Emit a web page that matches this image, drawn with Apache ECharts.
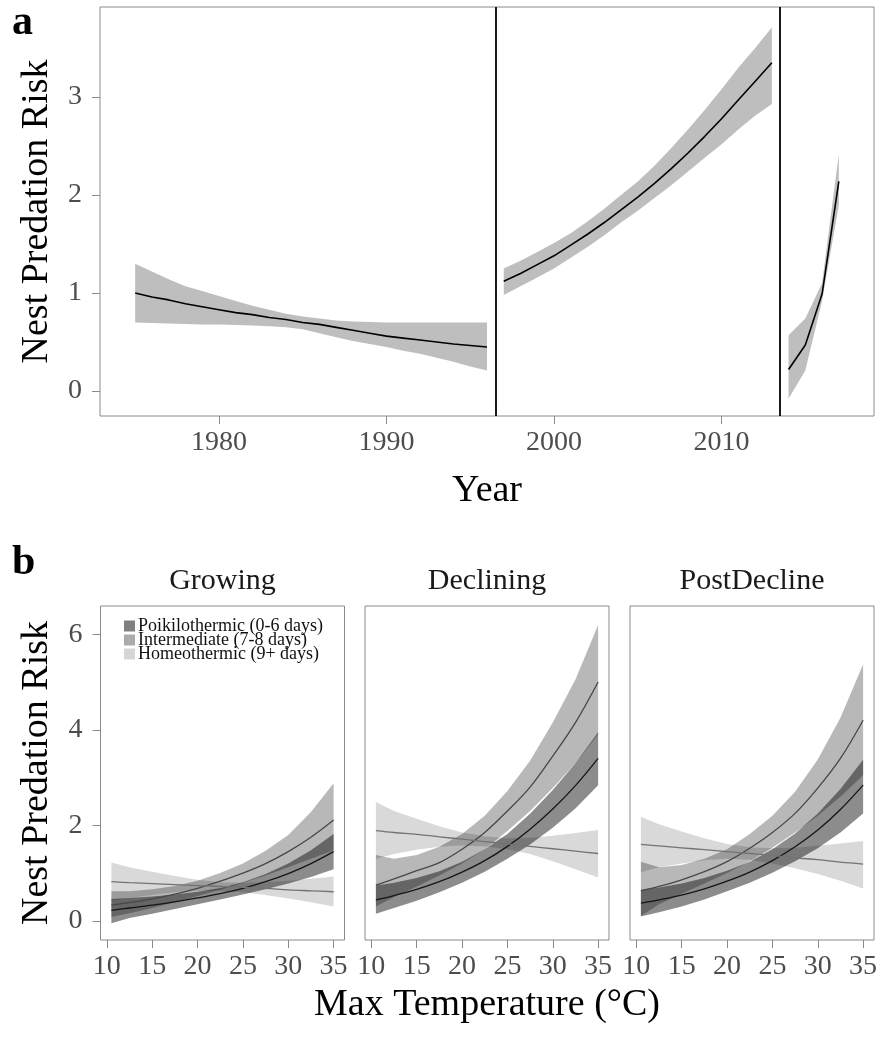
<!DOCTYPE html>
<html>
<head>
<meta charset="utf-8">
<script src="https://cdn.jsdelivr.net/npm/echarts@6/dist/echarts.min.js"></script>
<style>html,body{margin:0;padding:0;background:#fff}#c{width:882px;height:1038px}</style>
</head>
<body>
<div id="c"></div>
<script>
// ---------- Panel a data ----------
const yearsA1 = [1975,1976,1977,1978,1979,1980,1981,1982,1983,1984,1985,1986,1987,1988,1989,1990,1991,1992,1993,1994,1995,1996];
const riskA1  = [1.00,0.96,0.93,0.89,0.86,0.83,0.80,0.78,0.75,0.73,0.70,0.68,0.65,0.62,0.59,0.56,0.54,0.52,0.50,0.48,0.465,0.45];
const hiA1    = [1.30,1.22,1.14,1.07,1.02,0.97,0.92,0.87,0.83,0.79,0.76,0.74,0.72,0.71,0.705,0.70,0.70,0.70,0.70,0.70,0.70,0.70];
const loA1    = [0.70,0.695,0.69,0.685,0.68,0.68,0.675,0.67,0.66,0.65,0.63,0.59,0.55,0.51,0.48,0.45,0.41,0.38,0.34,0.30,0.25,0.21];

const yearsA2 = [1997,1998,1999,2000,2001,2002,2003,2004,2005,2006,2007,2008,2009,2010,2011,2012,2013];
const riskA2  = [1.12,1.20,1.29,1.38,1.49,1.60,1.72,1.85,1.98,2.12,2.27,2.43,2.60,2.78,2.97,3.16,3.35];
const hiA2    = [1.25,1.33,1.42,1.51,1.61,1.73,1.86,2.00,2.14,2.30,2.48,2.67,2.87,3.08,3.30,3.50,3.71];
const loA2    = [0.98,1.07,1.16,1.25,1.36,1.47,1.59,1.72,1.84,1.97,2.10,2.24,2.38,2.52,2.67,2.81,2.93];

const yearsA3 = [2014,2015,2016,2017];
const riskA3  = [0.22,0.47,0.99,2.14];
const hiA3    = [0.57,0.74,1.10,2.42];
const loA3    = [-0.08,0.21,0.92,1.90];

const periodBreaks = [1996.5, 2013.5];
const aXTicks = [1980,1990,2000,2010];
const aYTicks = [0,1,2,3];

// ---------- Panel b data ----------
const facets = ['Growing','Declining','PostDecline'];
const groups = ['Poikilothermic (0-6 days)','Intermediate (7-8 days)','Homeothermic (9+ days)'];
const tempX = [10.5,12.5,15,17.5,20,22.5,25,27.5,30,32.5,35];
const bXTicks = [10,15,20,25,30,35];
const bYTicks = [0,2,4,6];

// Growing
const growPoiki   = [0.22,0.27,0.33,0.40,0.48,0.57,0.68,0.82,0.99,1.20,1.45];
const growPoikiLo = [-0.05,0.06,0.15,0.25,0.35,0.45,0.55,0.66,0.78,0.92,1.08];
const growPoikiHi = [0.46,0.48,0.51,0.55,0.61,0.69,0.81,0.98,1.20,1.48,1.82];
const growInter   = [0.33,0.38,0.46,0.56,0.68,0.83,1.00,1.20,1.45,1.75,2.11];
const growInterLo = [0.08,0.16,0.27,0.39,0.52,0.65,0.80,0.95,1.12,1.30,1.48];
const growInterHi = [0.62,0.62,0.66,0.73,0.84,1.00,1.20,1.47,1.80,2.28,2.88];
const growHomeo   = [0.82,0.80,0.78,0.76,0.74,0.72,0.70,0.68,0.65,0.63,0.61];
const growHomeoLo = [0.42,0.48,0.54,0.60,0.63,0.63,0.60,0.54,0.47,0.39,0.30];
const growHomeoHi = [1.22,1.12,1.03,0.94,0.86,0.81,0.80,0.81,0.84,0.88,0.93];

// Declining
const declPoiki   = [0.44,0.53,0.66,0.82,1.02,1.26,1.56,1.92,2.34,2.83,3.40];
const declPoikiLo = [0.15,0.27,0.42,0.60,0.80,1.03,1.30,1.60,1.95,2.35,2.84];
const declPoikiHi = [0.74,0.80,0.90,1.04,1.24,1.50,1.82,2.24,2.74,3.30,3.95];
const declInter   = [0.75,0.88,1.05,1.22,1.50,1.85,2.30,2.80,3.45,4.15,5.00];
const declInterLo = [0.30,0.50,0.72,0.95,1.20,1.50,1.88,2.30,2.78,3.30,3.90];
const declInterHi = [1.38,1.30,1.38,1.55,1.82,2.20,2.72,3.35,4.15,5.05,6.19];
const declHomeo   = [1.89,1.85,1.81,1.76,1.71,1.66,1.61,1.56,1.51,1.46,1.41];
const declHomeoLo = [1.30,1.40,1.49,1.55,1.58,1.56,1.50,1.40,1.25,1.08,0.91];
const declHomeoHi = [2.49,2.30,2.14,1.98,1.85,1.77,1.73,1.74,1.78,1.84,1.90];

// PostDecline
const postPoiki   = [0.37,0.44,0.54,0.67,0.83,1.02,1.26,1.55,1.90,2.33,2.84];
const postPoikiLo = [0.09,0.18,0.30,0.45,0.62,0.80,1.01,1.25,1.52,1.85,2.25];
const postPoikiHi = [0.65,0.70,0.78,0.90,1.05,1.24,1.50,1.83,2.25,2.76,3.37];
const postInter   = [0.63,0.72,0.86,1.03,1.24,1.52,1.85,2.25,2.78,3.40,4.20];
const postInterLo = [0.10,0.35,0.57,0.78,1.00,1.25,1.53,1.85,2.20,2.60,3.05];
const postInterHi = [1.24,1.12,1.17,1.30,1.50,1.82,2.20,2.70,3.38,4.25,5.37];
const postHomeo   = [1.60,1.57,1.53,1.49,1.45,1.41,1.37,1.32,1.28,1.23,1.19];
const postHomeoLo = [1.02,1.12,1.20,1.27,1.30,1.28,1.20,1.10,0.98,0.84,0.68];
const postHomeoHi = [2.18,2.02,1.87,1.73,1.61,1.54,1.52,1.53,1.57,1.62,1.67];

// ---------- styling ----------
const FONT = 'Liberation Serif';
const tickCol = '#4d4d4d';
const boxCol = '#8a8a8a';
const bandFill = ['rgba(0,0,0,0.45)','rgba(0,0,0,0.28)','rgba(0,0,0,0.15)'];
const keyFill = ['#808080','#ababab','#d6d6d6'];
const lineCol = ['#151515','#474747','#737373'];

function bandSeries(name, idx, xs, lo, hi, fill, z) {
  return {
    type: 'custom', name: name, xAxisIndex: idx, yAxisIndex: idx, silent: true, z: z,
    data: xs.map((x, i) => [x, lo[i], hi[i]]),
    encode: { x: 0, y: [1, 2] },
    renderItem: function (params, api) {
      if (params.dataIndex !== 0) return null;
      const pts = [];
      for (let i = 0; i < xs.length; i++) pts.push(api.coord([xs[i], hi[i]]));
      for (let i = xs.length - 1; i >= 0; i--) pts.push(api.coord([xs[i], lo[i]]));
      return { type: 'polygon', shape: { points: pts }, style: { fill: fill } };
    }
  };
}
function lineSeries(name, idx, xs, ys, color, width, smooth, z) {
  return {
    type: 'line', name: name, xAxisIndex: idx, yAxisIndex: idx, silent: true, z: z,
    data: xs.map((x, i) => [x, ys[i]]), showSymbol: false, symbol: 'none', smooth: smooth,
    lineStyle: { color: color, width: width }
  };
}

const grids = [
  { left: 100, top: 7, width: 774, height: 409 },
  { left: 100.5, top: 606, width: 244, height: 334 },
  { left: 365, top: 606, width: 244, height: 334 },
  { left: 630, top: 606, width: 244, height: 334 }
].map(g => Object.assign(g, { show: true, borderColor: boxCol, borderWidth: 1, backgroundColor: '#fff' }));

function xAx(idx, min, max, ticks, name, nameGap) {
  return {
    type: 'value', gridIndex: idx, min: min, max: max, position: 'bottom',
    axisLine: { show: false, onZero: false },
    splitLine: { show: false },
    axisTick: { show: true, inside: false, customValues: ticks, length: 8, lineStyle: { color: boxCol, width: 1 } },
    axisLabel: { customValues: ticks, formatter: v => String(v), color: tickCol, fontFamily: FONT, fontSize: 28, margin: 13 },
    name: name || '', nameLocation: 'middle', nameGap: nameGap || 0,
    nameTextStyle: { color: '#000', fontFamily: FONT, fontSize: 38 }
  };
}
function yAx(idx, min, max, ticks, showLabels, name) {
  return {
    type: 'value', gridIndex: idx, min: min, max: max, position: 'left',
    axisLine: { show: false, onZero: false },
    splitLine: { show: false },
    axisTick: { show: showLabels, inside: false, customValues: ticks, length: 8, lineStyle: { color: boxCol, width: 1 } },
    axisLabel: { show: showLabels, customValues: ticks, formatter: v => String(v), color: tickCol, fontFamily: FONT, fontSize: 28, margin: 18 },
    name: name || '', nameLocation: 'middle', nameGap: 44,
    nameTextStyle: { color: '#000', fontFamily: FONT, fontSize: 38 }
  };
}

const bXmin = 9.3, bXmax = 36.2, bYmin = -0.4, bYmax = 6.59;

const series = [];
// panel a
series.push(bandSeries('a1', 0, yearsA1, loA1, hiA1, '#bebebe', 1));
series.push(bandSeries('a2', 0, yearsA2, loA2, hiA2, '#bebebe', 1));
series.push(bandSeries('a3', 0, yearsA3, loA3, hiA3, '#bebebe', 1));
const aLine1 = lineSeries('a1line', 0, yearsA1, riskA1, '#000', 1.6, false, 3);
aLine1.markLine = {
  silent: true, symbol: ['none', 'none'], label: { show: false },
  lineStyle: { color: '#000', width: 1.8, type: 'solid' },
  data: periodBreaks.map(v => ({ xAxis: v }))
};
series.push(aLine1);
series.push(lineSeries('a2line', 0, yearsA2, riskA2, '#000', 1.6, false, 3));
series.push(lineSeries('a3line', 0, yearsA3, riskA3, '#000', 1.6, false, 3));

// panel b
const facetData = [
  [[growPoiki, growPoikiLo, growPoikiHi], [growInter, growInterLo, growInterHi], [growHomeo, growHomeoLo, growHomeoHi]],
  [[declPoiki, declPoikiLo, declPoikiHi], [declInter, declInterLo, declInterHi], [declHomeo, declHomeoLo, declHomeoHi]],
  [[postPoiki, postPoikiLo, postPoikiHi], [postInter, postInterLo, postInterHi], [postHomeo, postHomeoLo, postHomeoHi]]
];
facetData.forEach((fd, f) => {
  fd.forEach((gd, g) => {
    series.push(bandSeries(groups[g], f + 1, tempX, gd[1], gd[2], bandFill[g], 1));
  });
  fd.forEach((gd, g) => {
    series.push(lineSeries(facets[f] + ' ' + groups[g] + ' fit', f + 1, tempX, gd[0], lineCol[g], 1.3, 0.35, 3));
  });
});

const option = {
  animation: false,
  backgroundColor: '#fff',
  grid: grids,
  xAxis: [
    xAx(0, 1972.9, 2019.1, aXTicks, 'Year', 56),
    xAx(1, bXmin, bXmax, bXTicks),
    xAx(2, bXmin, bXmax, bXTicks, 'Max Temperature (°C)', 46),
    xAx(3, bXmin, bXmax, bXTicks)
  ],
  yAxis: [
    yAx(0, -0.255, 3.92, aYTicks, true, 'Nest Predation Risk'),
    yAx(1, bYmin, bYmax, bYTicks, true, 'Nest Predation Risk'),
    yAx(2, bYmin, bYmax, bYTicks, false),
    yAx(3, bYmin, bYmax, bYTicks, false)
  ],
  title: [
    { text: 'a', left: 12, top: 2, textStyle: { fontFamily: FONT, fontWeight: 'bold', fontSize: 42, color: '#000' }, padding: 0 },
    { text: 'b', left: 12, top: 542, textStyle: { fontFamily: FONT, fontWeight: 'bold', fontSize: 42, color: '#000' }, padding: 0 },
    { text: facets[0], left: 222.5, textAlign: 'center', top: 566, padding: 0, textStyle: { fontFamily: FONT, fontWeight: 'normal', fontSize: 30, color: '#1a1a1a' } },
    { text: facets[1], left: 487, textAlign: 'center', top: 566, padding: 0, textStyle: { fontFamily: FONT, fontWeight: 'normal', fontSize: 30, color: '#1a1a1a' } },
    { text: facets[2], left: 752, textAlign: 'center', top: 566, padding: 0, textStyle: { fontFamily: FONT, fontWeight: 'normal', fontSize: 30, color: '#1a1a1a' } }
  ],
  legend: {
    orient: 'vertical', left: 124, top: 617, padding: 0,
    itemWidth: 11, itemHeight: 11, itemGap: -4,
    icon: 'rect',
    textStyle: { fontFamily: FONT, fontSize: 18, color: '#111', padding: [0, 0, 0, -2] },
    data: groups.map((g, i) => ({ name: g, itemStyle: { color: keyFill[i] } })),
    selectedMode: false
  },
  series: series
};

const chart = echarts.init(document.getElementById('c'), null, { renderer: 'canvas' });
chart.setOption(option);
</script>
</body>
</html>
